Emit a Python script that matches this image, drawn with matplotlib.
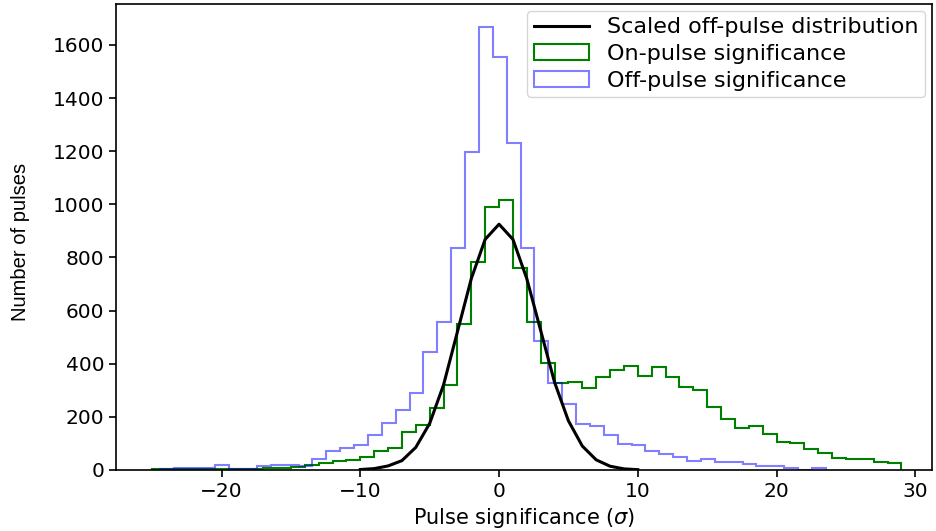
import numpy as np
import matplotlib
matplotlib.use("Agg")
import matplotlib.pyplot as plt

# ---- data ----
# On-pulse significance histogram (bin width 1, left edges -25 ... 28)
on_left_edge = -25.0
on_counts = [2, 3, 3, 4, 3, 4, 4, 5, 6, 8, 12, 19, 27, 32, 39, 49, 70, 82,
             143, 170, 232, 320, 550, 782, 988, 1017, 759, 558, 404, 329,
             332, 310, 351, 376, 392, 352, 387, 349, 311, 301, 238, 191,
             157, 166, 134, 107, 103, 79, 63, 44, 41, 41, 31, 25]

# Off-pulse significance histogram (bin width 1, left edges -24.45 ... 22.55)
off_left_edge = -24.45
off_counts = [5, 6, 8, 6, 18, 5, 5, 14, 18, 20, 14, 43, 70, 83, 92, 132,
              178, 226, 291, 445, 555, 837, 1195, 1669, 1553, 1232, 837,
              486, 329, 248, 173, 167, 132, 97, 92, 72, 60, 50, 34, 40,
              31, 28, 23, 16, 16, 8, 0, 8]
bin_width = 1.0

# Scaled off-pulse distribution (sampled at integer significance)
dist_x = [-10, -9, -8, -7, -6, -5, -4, -3, -2, -1, 0, 1, 2, 3, 4, 5, 6, 7, 8, 9, 10]
dist_y = [1.5, 5, 15, 35, 85, 175, 320, 520, 720, 868, 925, 868, 720, 525,
          330, 185, 90, 38, 14, 4, 1]

xticks = [-20, -10, 0, 10, 20, 30]
yticks = [0, 200, 400, 600, 800, 1000, 1200, 1400, 1600]

# ---- figure ----
fig = plt.figure(figsize=(9.36, 5.31), dpi=100)
ax = fig.add_axes([0.124, 0.115, 0.8717, 0.8775])

on_edges = on_left_edge + bin_width * np.arange(len(on_counts) + 1)
off_edges = off_left_edge + bin_width * np.arange(len(off_counts) + 1)
on_centers = 0.5 * (on_edges[:-1] + on_edges[1:])
off_centers = 0.5 * (off_edges[:-1] + off_edges[1:])

ax.plot(dist_x, dist_y, color="black", lw=2.2, label="Scaled off-pulse distribution", zorder=3)
ax.hist(on_centers, bins=on_edges, weights=on_counts, histtype="step",
        color="green", lw=1.5, label="On-pulse significance")
ax.hist(off_centers, bins=off_edges, weights=off_counts, histtype="step",
        color="blue", alpha=0.5, lw=1.5, label="Off-pulse significance")

ax.set_xlim(-27.6, 31.2)
ax.set_ylim(0, 1754)
ax.set_xticks(xticks)
ax.set_yticks(yticks)
ax.tick_params(labelsize=14.5, width=1.2, length=5)
for s in ax.spines.values():
    s.set_linewidth(1.2)

ax.set_xlabel("Pulse significance ($\\sigma$)", fontsize=15, labelpad=4)
ax.set_ylabel("Number of pulses", fontsize=14.5,
              family=["Liberation Sans", "DejaVu Sans"])
ax.yaxis.set_label_coords(-0.106, 0.49)

ax.legend(loc="upper right", fontsize=16, borderaxespad=0.3,
          handlelength=2.5, labelspacing=0.3, borderpad=0.3)

fig.savefig("out.png", dpi=100)
